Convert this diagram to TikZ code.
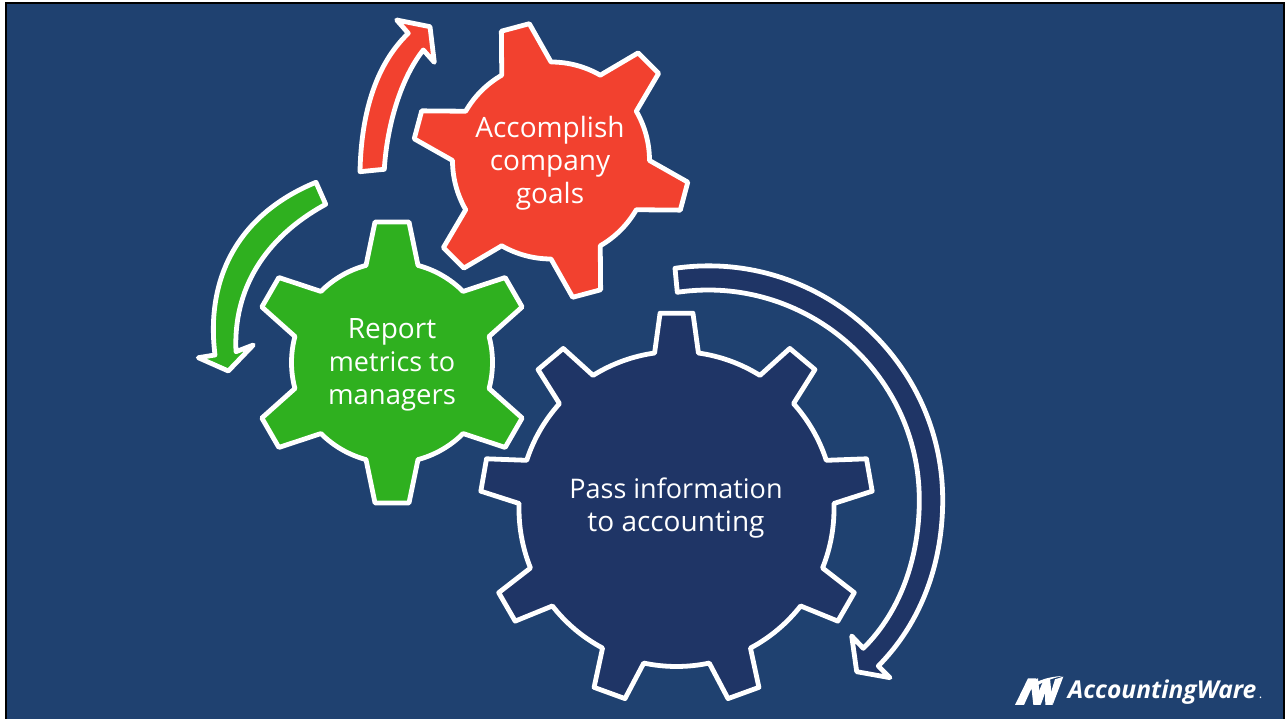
\documentclass[tikz,border=0pt]{standalone}
\usepackage{fontspec}
\setmainfont{Open Sans}
\definecolor{bgblue}{HTML}{1F4170}
\definecolor{darkgear}{HTML}{1F3566}
\definecolor{redgear}{HTML}{F2412F}
\definecolor{greengear}{HTML}{2FB01F}
\tikzset{
  px/.style={shift={(0,719)},y=-1pt},
  gearline/.style={draw=white,line width=4.8pt,line join=round},
  gearlabel/.style={text=white,align=center,inner sep=0pt,font=\fontsize{28}{33}\selectfont},
  logomark/.style={fill=white,draw=none},
}
% centre x, centre y, period, root radius, tip radius, first tooth angle, root half width, tip half width, colour
\newcommand{\gearshape}[9]{%
  \pgfmathtruncatemacro{\lastk}{360/#3-1}%
  \draw[gearline,fill=#9,shift={(#1,#2)}] ({#6+#7}:#4)
    \foreach \k in {0,...,\lastk} {
      -- ({#6-\k*#3+#7}:#4)
      -- ({#6-\k*#3+#8}:#5)
      -- ({#6-\k*#3-#8}:#5)
      -- ({#6-\k*#3-#7}:#4)
      arc[start angle={#6-\k*#3-#7},end angle={#6-\k*#3-#3+#7},radius=#4]
    } -- cycle;%
}
\begin{document}
\begin{tikzpicture}[x=1pt,y=1pt]
\useasboundingbox (0,0) rectangle (1288,719);
\fill[white] (0,0) rectangle (1288,719);
\begin{scope}[px]
\fill[black] (5,2) rectangle (1285,719);
\fill[bgblue] (7,4) rectangle (1283,719);
\end{scope}

% gears
\gearshape{551}{558.5}{60}{98.5}{138.5}{105}{15}{6}{redgear}
\gearshape{392}{356.5}{60}{100.5}{141.5}{90}{15}{6.9}{greengear}
\gearshape{676.5}{210}{40}{157.5}{196.5}{90}{8}{4.8}{darkgear}

\begin{scope}[px]
% block arrows
\draw[gearline,fill=redgear]
  (360,171.7) .. controls (361,122) and (372,68) .. (408.3,33.3)
  -- (396.7,20) -- (430,26.7) -- (434.3,62.3) -- (423.3,50)
  .. controls (401,78) and (387,125) .. (384.3,169.3) -- cycle;
\draw[gearline,fill=greengear]
  (316,182.3) .. controls (241,213) and (205,275) .. (215,355)
  -- (198.3,357.7) -- (228.3,371) -- (253.3,345) -- (236,351.7)
  .. controls (233,290) and (264,238) .. (325.7,204.3) -- cycle;
\draw[gearline,fill=darkgear]
  (675,268.3) .. controls (816,248) and (942.7,358) .. (942.7,500)
  .. controls (942.7,562) and (922,622) .. (878.3,666)
  -- (890,677.7) -- (856.7,671.7) -- (851.7,636) -- (863.3,648.3)
  .. controls (902,610) and (919.3,555) .. (919.3,500)
  .. controls (919.3,372) and (804,273.6) .. (677.3,292.3) -- cycle;

% labels
\node[gearlabel] (goals) at (550,163) {Accomplish\\company\\goals};
\node[gearlabel] (metrics) at (392,365) {Report\\{\fontsize{27}{33}\selectfont metrics to}\\{\fontsize{27.5}{33}\selectfont managers}};
\node[gearlabel] (info) at (676,508.5) {{\fontsize{27}{33}\selectfont Pass information}\\to accounting};

% logo
\begin{scope}[shift={(1000,660)},x=0.3333pt,y=-0.3333pt]
\fill[logomark] (45,135) -- (84,55) -- (108,55) -- (72,135) -- cycle;
\fill[logomark] (92,62) -- (114,55) -- (122,135) -- (100,135) -- cycle;
\fill[logomark] (112,105) -- (130,62) -- (150,58) -- (122,135) -- cycle;
\fill[logomark] (134,62) -- (150,55) -- (158,135) -- (136,135) -- cycle;
\fill[logomark] (152,100) -- (165,58) -- (190,50) -- (158,135) -- cycle;
\fill[logomark] (62,102) .. controls (95,65) and (140,50) .. (188,48) .. controls (140,58) and (100,78) .. (70,110) -- cycle;
\node[inner sep=0pt,anchor=base west,text=white,font=\fontsize{24.6}{25}\selectfont\bfseries\itshape] (logo) at (203,116) {AccountingWare};
\node[inner sep=0pt,anchor=base west,text=white,font=\fontsize{13}{13}\selectfont] (logodot) at (776,116) {.};
\end{scope}
\end{scope}
\end{tikzpicture}
\end{document}
